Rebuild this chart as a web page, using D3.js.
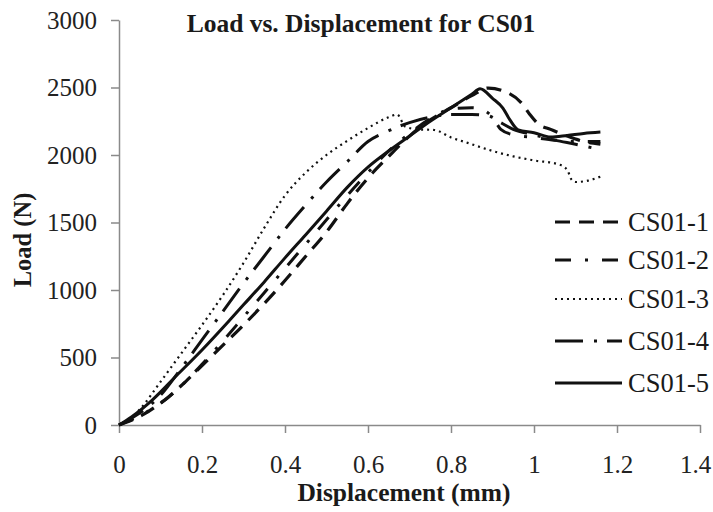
<!DOCTYPE html>
<html>
<head>
<meta charset="utf-8">
<script src="https://cdn.jsdelivr.net/npm/d3@7"></script>
<style>
  html, body { margin: 0; padding: 0; background: #fff; }
  svg { display: block; }
  svg text { font-family: "Liberation Serif", serif; fill: #1a1a1a; }
</style>
</head>
<body>
<svg id="chart" width="713" height="512"></svg>
<script>
// ---- data ----
const xTicks = [0, 0.2, 0.4, 0.6, 0.8, 1, 1.2, 1.4];
const yTicks = [0, 500, 1000, 1500, 2000, 2500, 3000];
const seriesNames = ["CS01-1", "CS01-2", "CS01-3", "CS01-4", "CS01-5"];

const cs01_1 = [[0,0],[0.03,35],[0.06,80],[0.09,140],[0.12,210],[0.16,320],[0.2,440],[0.25,590],[0.3,740],[0.35,900],[0.4,1070],[0.45,1250],[0.5,1430],[0.55,1640],[0.6,1830],[0.65,1990],[0.7,2140],[0.75,2260],[0.8,2350],[0.85,2440],[0.89,2496],[0.93,2470],[0.97,2385],[0.99,2300],[1.01,2230],[1.04,2190],[1.08,2140],[1.12,2100],[1.16,2080]];
const cs01_2 = [[0,0],[0.03,40],[0.06,85],[0.1,160],[0.15,290],[0.2,450],[0.25,620],[0.3,800],[0.35,980],[0.4,1160],[0.45,1340],[0.5,1520],[0.55,1700],[0.6,1870],[0.65,2030],[0.7,2160],[0.75,2270],[0.8,2340],[0.85,2350],[0.88,2330],[0.9,2280],[0.92,2190],[0.95,2150],[1.0,2130],[1.05,2110],[1.1,2100],[1.16,2100]];
const cs01_3 = [[0,0],[0.02,30],[0.05,115],[0.1,320],[0.15,530],[0.2,740],[0.25,960],[0.3,1200],[0.35,1460],[0.4,1700],[0.45,1870],[0.5,2000],[0.55,2105],[0.6,2200],[0.65,2280],[0.67,2300],[0.69,2210],[0.72,2190],[0.76,2185],[0.8,2130],[0.84,2090],[0.9,2030],[0.95,1990],[1.0,1960],[1.06,1930],[1.08,1890],[1.09,1820],[1.1,1800],[1.13,1810],[1.16,1840]];
const cs01_4 = [[0,0],[0.03,50],[0.06,110],[0.1,220],[0.15,420],[0.2,630],[0.25,840],[0.3,1050],[0.35,1250],[0.4,1450],[0.45,1630],[0.5,1800],[0.55,1950],[0.6,2100],[0.65,2180],[0.7,2240],[0.75,2280],[0.8,2300],[0.85,2300],[0.89,2290],[0.92,2240],[0.95,2190],[1.0,2150],[1.05,2110],[1.1,2080],[1.16,2040]];
const cs01_5 = [[0,0],[0.03,60],[0.08,185],[0.14,370],[0.2,556],[0.267,778],[0.3,890],[0.35,1060],[0.4,1238],[0.45,1410],[0.5,1584],[0.55,1760],[0.6,1910],[0.65,2030],[0.7,2140],[0.75,2250],[0.8,2350],[0.85,2450],[0.87,2490],[0.9,2420],[0.925,2348],[0.942,2260],[0.962,2185],[1.0,2165],[1.04,2133],[1.08,2145],[1.12,2160],[1.16,2170]];

const seriesData = [cs01_1, cs01_2, cs01_3, cs01_4, cs01_5];
const dashes = ["15,9", "16,14,3,14", "2,4", "28,11,3,10", null];
const widths = [3.2, 3, 2.2, 3, 3];

// ---- layout ----
const serif = '"Liberation Serif", "Times New Roman", serif';
const svg = d3.select("#chart");
const plotL = 119, plotR = 700, plotT = 20, plotB = 425;
const x = d3.scaleLinear().domain([0, 1.4]).range([plotL, plotR]);
const y = d3.scaleLinear().domain([0, 3000]).range([plotB, plotT]);
const axisColor = "#8a8a8a";

// y axis
const yAxis = svg.append("g").attr("transform", `translate(${plotL},0)`)
  .call(d3.axisLeft(y).tickValues(yTicks).tickSize(8).tickSizeOuter(0).tickPadding(14).tickFormat(d3.format("d")));
// x axis
const xAxis = svg.append("g").attr("transform", `translate(0,${plotB})`)
  .call(d3.axisBottom(x).tickValues(xTicks).tickSize(8).tickSizeOuter(0).tickPadding(22).tickFormat(d => d3.format("")(d)));

[yAxis, xAxis].forEach(g => {
  g.attr("font-family", null);
  g.select(".domain").attr("stroke", axisColor).attr("stroke-width", 1.5);
  g.selectAll(".tick line").attr("stroke", axisColor).attr("stroke-width", 1.5);
  g.selectAll(".tick text").style("font-family", serif).style("font-size", "25px").style("fill", "#222");
});
// keep the last x label inside the frame, as in the reference
xAxis.selectAll(".tick text").filter(d => d === 1.4).attr("dx", -5);

// lines
const line = d3.line().x(d => x(d[0])).y(d => y(d[1])).curve(d3.curveMonotoneX);
svg.append("g").selectAll("path").data(seriesData).join("path")
  .attr("d", line)
  .attr("fill", "none")
  .attr("stroke", "#111")
  .attr("stroke-width", (d, i) => widths[i])
  .attr("stroke-dasharray", (d, i) => dashes[i])
  .attr("stroke-linejoin", "round");

// title
svg.append("text").attr("x", 361).attr("y", 32).attr("text-anchor", "middle")
  .style("font-family", serif).style("font-size", "25.5px").style("font-weight", "bold")
  .text("Load vs. Displacement for CS01");

// axis titles
svg.append("text").attr("x", 404).attr("y", 501).attr("text-anchor", "middle")
  .style("font-family", serif).style("font-size", "25.5px").style("font-weight", "bold")
  .text("Displacement (mm)");
svg.append("text").attr("transform", "translate(31,240) rotate(-90)").attr("text-anchor", "middle")
  .style("font-family", serif).style("font-size", "24.5px").style("font-weight", "bold")
  .text("Load (N)");

// legend
const legY = [222, 260, 299, 341, 383];
const leg = svg.append("g").selectAll("g").data(seriesNames).join("g")
  .attr("transform", (d, i) => `translate(555,${legY[i]})`);
leg.append("line").attr("x1", 0).attr("x2", 67).attr("y1", 0).attr("y2", 0)
  .attr("stroke", "#111")
  .attr("stroke-width", (d, i) => widths[i])
  .attr("stroke-dasharray", (d, i) => dashes[i]);
leg.append("text").attr("x", 73).attr("y", 0).attr("dy", "0.35em")
  .style("font-family", serif).style("font-size", "26.5px").text(d => d);
</script>
</body>
</html>
